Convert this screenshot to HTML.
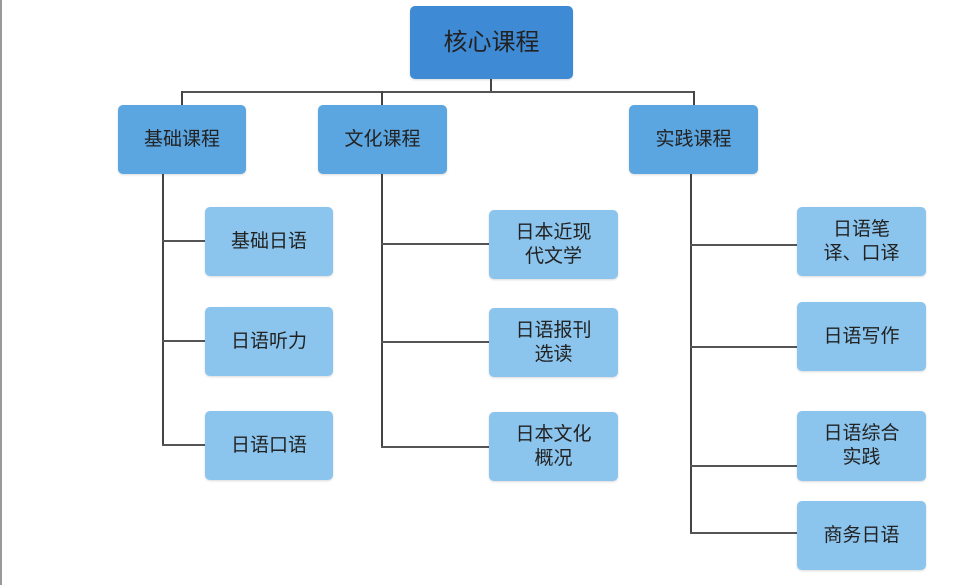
<!DOCTYPE html>
<html><head><meta charset="utf-8"><style>
body{margin:0;width:960px;height:585px;background:#fff;position:relative;overflow:hidden;font-family:"Liberation Sans","Noto Sans CJK SC",sans-serif}
.b{position:absolute;border-radius:5px;display:flex;align-items:center;justify-content:center;text-align:center;color:#222;font-size:19px;line-height:24px;box-shadow:0 1px 2px rgba(0,0,0,.15)}
.c{background:#3e8ad5;font-size:24px}
.m{background:#5ba5e0}
.l{background:#8bc4ec}
.h{position:absolute;height:2px;background:#555}
.v{position:absolute;width:2px;background:#444}
</style></head><body>
<div style="position:absolute;left:0;top:0;width:2px;height:585px;background:#999"></div>
<div class="b c" style="left:410px;top:6px;width:163px;height:73px">核心课程</div>
<div class="v" style="left:490px;top:79px;height:13px"></div>
<div class="h" style="left:181px;top:91px;width:514px"></div>
<div class="v" style="left:181px;top:91px;height:14px"></div>
<div class="v" style="left:381px;top:91px;height:14px"></div>
<div class="v" style="left:693px;top:91px;height:14px"></div>
<div class="b m" style="left:118px;top:105px;width:128px;height:69px">基础课程</div>
<div class="b m" style="left:318px;top:105px;width:129px;height:69px">文化课程</div>
<div class="b m" style="left:629px;top:105px;width:129px;height:69px">实践课程</div>
<div class="v" style="left:162px;top:174px;height:272px"></div>
<div class="h" style="left:162px;top:240px;width:43px"></div>
<div class="h" style="left:162px;top:340px;width:43px"></div>
<div class="h" style="left:162px;top:444px;width:43px"></div>
<div class="b l" style="left:205px;top:207px;width:128px;height:69px">基础日语</div>
<div class="b l" style="left:205px;top:307px;width:128px;height:69px">日语听力</div>
<div class="b l" style="left:205px;top:411px;width:128px;height:69px">日语口语</div>
<div class="v" style="left:381px;top:174px;height:274px"></div>
<div class="h" style="left:381px;top:243px;width:108px"></div>
<div class="h" style="left:381px;top:341px;width:108px"></div>
<div class="h" style="left:381px;top:446px;width:108px"></div>
<div class="b l" style="left:489px;top:210px;width:129px;height:69px">日本近现<br>代文学</div>
<div class="b l" style="left:489px;top:308px;width:129px;height:69px">日语报刊<br>选读</div>
<div class="b l" style="left:489px;top:412px;width:129px;height:69px">日本文化<br>概况</div>
<div class="v" style="left:690px;top:174px;height:360px"></div>
<div class="h" style="left:690px;top:244px;width:107px"></div>
<div class="h" style="left:690px;top:346px;width:107px"></div>
<div class="h" style="left:690px;top:465px;width:107px"></div>
<div class="h" style="left:690px;top:532px;width:107px"></div>
<div class="b l" style="left:797px;top:207px;width:129px;height:69px">日语笔<br>译、口译</div>
<div class="b l" style="left:797px;top:302px;width:129px;height:69px">日语写作</div>
<div class="b l" style="left:797px;top:411px;width:129px;height:70px">日语综合<br>实践</div>
<div class="b l" style="left:797px;top:501px;width:129px;height:69px">商务日语</div>
</body></html>
